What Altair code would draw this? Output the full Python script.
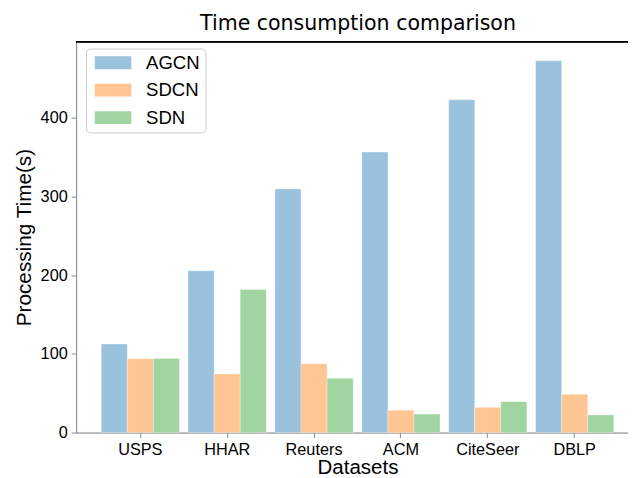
import altair as alt
import pandas as pd

datasets = ["USPS", "HHAR", "Reuters", "ACM", "CiteSeer", "DBLP"]
methods = ["AGCN", "SDCN", "SDN"]
agcn = [112.5, 205.6, 309.7, 356.5, 423.0, 472.7]
sdcn = [93.8, 74.5, 87.5, 28.4, 32.0, 48.6]
sdn = [94.0, 181.8, 69.0, 23.5, 39.3, 22.3]
colors = ["#9ac2dd", "#ffc593", "#a0d4a0"]
y_ticks = [0, 100, 200, 300, 400]

rows = []
for i, d in enumerate(datasets):
    for m, vals in zip(methods, [agcn, sdcn, sdn]):
        rows.append({"Dataset": d, "Method": m, "Time": vals[i]})
df = pd.DataFrame(rows)

FONT = "DejaVu Sans"
W, H = 559, 396

bars = alt.Chart(df).mark_bar(stroke="#ffffff", strokeWidth=0.6, strokeOpacity=0.5).encode(
    x=alt.X("Dataset:N", sort=datasets,
            scale=alt.Scale(range=[0, 570], paddingInner=0.1, paddingOuter=0.289),
            axis=alt.Axis(title="Datasets", labelAngle=0, labelFontSize=16.5, titleFontSize=20.8,
                          titleFontWeight="normal", labelPadding=4, tickSize=5,
                          titleX=285, titlePadding=0)),
    xOffset=alt.XOffset("Method:N", sort=methods, scale=alt.Scale(paddingInner=0, paddingOuter=0)),
    y=alt.Y("Time:Q", scale=alt.Scale(domain=[0, 497], nice=False),
            axis=alt.Axis(title="Processing Time(s)", values=y_ticks, labelFontSize=16.5,
                          titleFontSize=21, titleFontWeight="normal", tickSize=5,
                          labelPadding=4, titlePadding=6, grid=False)),
    color=alt.Color("Method:N", sort=methods,
                    scale=alt.Scale(domain=methods, range=colors),
                    legend=alt.Legend(title=None, orient="none", legendX=10, legendY=7,
                                      symbolType="M-2.85,-1H2.85V1H-2.85Z", symbolSize=169,
                                      symbolOffset=13, labelOffset=24, padding=5,
                                      rowPadding=7.8, labelFontSize=18.8, symbolStrokeWidth=0,
                                      fillColor="#ffffff", strokeColor="#cccccc",
                                      cornerRadius=4, symbolOpacity=1)),
)

top = alt.Chart(df).mark_rule(color="#000000", strokeWidth=1).encode(
    x=alt.value(0), x2=alt.value(W), y=alt.value(0)
)

chart = alt.layer(bars, top).properties(
    width=W, height=H,
    title=alt.TitleParams("Time consumption comparison", fontSize=20.8, fontWeight="normal",
                          font=FONT, anchor="middle", dx=6, offset=6),
    autosize=alt.AutoSizeParams(type="none"),
    padding={"left": 69, "top": 31, "right": 0, "bottom": 43},
).configure_view(stroke=None).configure_axis(
    domainColor="#000000", tickColor="#000000", labelColor="#000000", titleColor="#000000",
    labelFont=FONT, titleFont=FONT, domainWidth=1, tickWidth=1,
).configure_legend(labelFont=FONT, labelColor="#000000").configure(background="#ffffff")

chart.save("out.html", embed_options={"renderer": "svg", "actions": False})
